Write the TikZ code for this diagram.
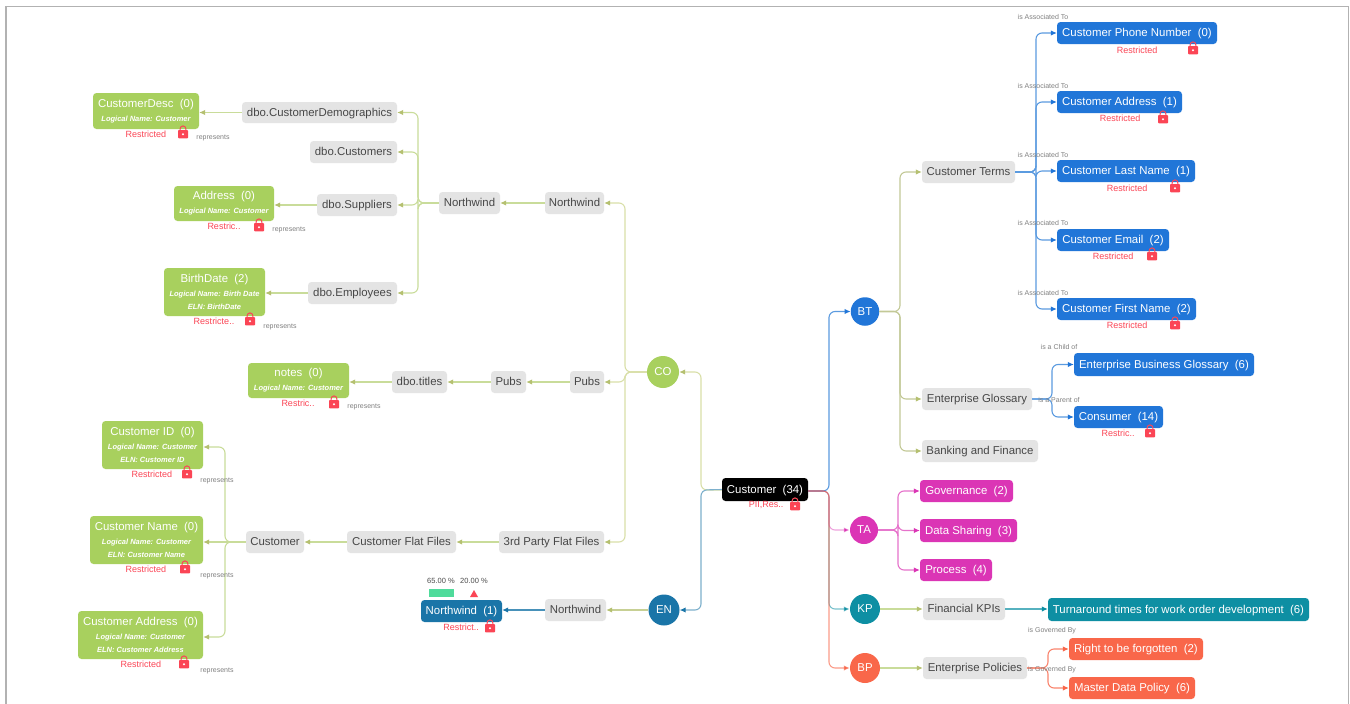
\documentclass[tikz,border=0pt]{standalone}
\usepackage{fontspec}
\setmainfont{Liberation Sans}
\usetikzlibrary{arrows.meta}
\definecolor{cgreen}{HTML}{A8D05E}
\definecolor{cgray}{HTML}{E4E4E4}
\definecolor{cblue}{HTML}{2176D8}
\definecolor{cpink}{HTML}{DB35B5}
\definecolor{cteal}{HTML}{0E8FA3}
\definecolor{ccoral}{HTML}{F9674A}
\definecolor{cen}{HTML}{1A75A8}
\definecolor{cred}{HTML}{FB4555}
\definecolor{cmint}{HTML}{4FDB9B}
\definecolor{lgreen}{HTML}{C9DC9A}
\definecolor{lyellow}{HTML}{D9DFA8}
\definecolor{ltip}{HTML}{B5C070}
\definecolor{lblue}{HTML}{5B9BE0}
\definecolor{lsteel}{HTML}{7DB0CC}
\tikzset{
  boxbase/.style={rounded corners=3.5pt,inner sep=0pt,font=\fontsize{11.4}{13}\selectfont,align=center},
  oneline/.style={text height=8.4pt,text depth=1.4pt},
  gbox/.style={boxbase,oneline,fill=cgray,text=black!72},
  vbox/.style={boxbase,fill=cgreen,text=white},
  bbox/.style={boxbase,oneline,fill=cblue,text=white},
  pbox/.style={boxbase,oneline,fill=cpink,text=white},
  tbox/.style={boxbase,oneline,fill=cteal,text=white},
  obox/.style={boxbase,oneline,fill=ccoral,text=white},
  ebox/.style={boxbase,oneline,fill=cen,text=white},
  rbox/.style={boxbase,oneline,fill=black,text=white},
  hub/.style={circle,inner sep=0pt,text=white,font=\fontsize{11.4}{13}\selectfont},
  lk/.style n args={2}{line width=1.1pt,rounded corners=6pt,draw=#1,-{Latex[length=6pt,width=5.5pt,color=#2]}},
  tiny/.style={inner sep=0pt,text=black!50,font=\fontsize{7}{8}\selectfont},
  warn/.style={inner sep=0pt,text=cred,font=\fontsize{9}{11}\selectfont},
  pct/.style={inner sep=0pt,text=black!70,font=\fontsize{7.5}{9}\selectfont},
}
\newcommand{\bx}[7][]{\node[#2,#1,minimum width={(#5-#3)*1pt},minimum height={(#6-#4)*1pt}] (#7) at ({(#3+#5)/2},{(#4+#6)/2})}
\newcommand{\lockat}[2]{%
  \draw[cred,line width=1pt] (#1-2.9,#2) -- (#1-2.9,#2-3.2) arc[start angle=180,end angle=0,x radius=2.9,y radius=-2.9] -- (#1+2.9,#2);
  \fill[cred,rounded corners=0.8pt] (#1-5,#2-2) rectangle (#1+5,#2+6.3);
  \fill[white] (#1,#2+2.2) circle[radius=1.1];}
\newcommand{\vt}[1]{{\fontsize{7.5}{9.5}\selectfont\bfseries\itshape #1}}
\begin{document}
\begin{tikzpicture}[x=1pt,y=-1pt]
\useasboundingbox (0,0) rectangle (1350,704);
\fill[white] (0,0) rectangle (1350,704);
\draw[black!30,line width=1.4pt] (5.8,704) -- (5.8,6.3) -- (1348.5,6.3) -- (1348.5,704);
% hubs
\node[hub,fill=cgreen,minimum size=32pt] (co) at (663,372) {CO};
\node[hub,fill=cen,minimum size=31pt] (en) at (664,610) {EN};
\node[hub,fill=cblue,minimum size=28.5pt] (bt) at (865,311.5) {BT};
\node[hub,fill=cpink,minimum size=28pt] (ta) at (864,530) {TA};
\node[hub,fill=cteal,minimum size=30pt] (kp) at (865,609) {KP};
\node[hub,fill=ccoral,minimum size=30pt] (bp) at (865,668) {BP};
% root
\bx{rbox}{722}{478}{808}{501}{root} {Customer\ \ (34)};
% grey boxes
\bx{gbox}{242}{102}{397}{123}{cdemo} {dbo.CustomerDemographics};
\bx{gbox}{310}{141}{397}{163}{ccust} {dbo.Customers};
\bx{gbox}{317}{194}{397}{216}{csupp} {dbo.Suppliers};
\bx{gbox}{308}{282}{397}{304}{cempl} {dbo.Employees};
\bx{gbox}{439}{192}{500}{214}{nwa} {Northwind};
\bx{gbox}{545}{192}{604}{214}{nwb} {Northwind};
\bx{gbox}{392}{371}{447}{393}{titles} {dbo.titles};
\bx{gbox}{491}{371}{526}{393}{pubsa} {Pubs};
\bx{gbox}{570}{371}{604}{393}{pubsb} {Pubs};
\bx{gbox}{246}{531}{304}{553}{custg} {Customer};
\bx{gbox}{347}{531}{456}{553}{cff} {Customer Flat Files};
\bx{gbox}{499}{531}{604}{553}{tpf} {3rd Party Flat Files};
\bx{gbox}{545}{599}{606}{621}{nwc} {Northwind};
\bx{gbox}{922}{161}{1015}{183}{terms} {Customer Terms};
\bx{gbox}{922}{388}{1032}{410}{gloss} {Enterprise Glossary};
\bx{gbox}{922}{440}{1038}{462}{bank} {Banking and Finance};
\bx{gbox}{923}{598}{1005}{620}{fkpi} {Financial KPIs};
\bx{gbox}{923}{657}{1027}{679}{epol} {Enterprise Policies};
% green boxes
\bx{vbox}{93}{93}{199}{129}{vdesc} {CustomerDesc\ \ (0)\\[1pt]\vt{Logical Name: Customer}};
\bx{vbox}{174}{186}{274}{221}{vaddr} {Address\ \ (0)\\[1pt]\vt{Logical Name: Customer}};
\bx{vbox}{164}{268}{265}{316}{vbirth} {BirthDate\ \ (2)\\[1pt]\vt{Logical Name: Birth Date}\\\vt{ELN: BirthDate}};
\bx{vbox}{248}{363}{349}{398}{vnotes} {notes\ \ (0)\\[1pt]\vt{Logical Name: Customer}};
\bx{vbox}{102}{421}{203}{469}{vid} {Customer ID\ \ (0)\\[1pt]\vt{Logical Name: Customer}\\\vt{ELN: Customer ID}};
\bx{vbox}{90}{516}{203}{564}{vname} {Customer Name\ \ (0)\\[1pt]\vt{Logical Name: Customer}\\\vt{ELN: Customer Name}};
\bx{vbox}{78}{611}{203}{659}{vcaddr} {Customer Address\ \ (0)\\[1pt]\vt{Logical Name: Customer}\\\vt{ELN: Customer Address}};
% blue boxes
\bx{bbox}{1057}{22}{1217}{44}{bphone} {Customer Phone Number\ \ (0)};
\bx{bbox}{1057}{91}{1182}{113}{baddr} {Customer Address\ \ (1)};
\bx{bbox}{1057}{160}{1195}{182}{blast} {Customer Last Name\ \ (1)};
\bx{bbox}{1057}{229}{1169}{251}{bmail} {Customer Email\ \ (2)};
\bx{bbox}{1057}{298}{1196}{320}{bfirst} {Customer First Name\ \ (2)};
\bx{bbox}{1074}{353}{1254}{376}{bebg} {Enterprise Business Glossary\ \ (6)};
\bx{bbox}{1074}{406}{1163}{428}{bcons} {Consumer\ \ (14)};
% pink, teal, coral, steel
\bx{pbox}{920}{480}{1013}{502}{pgov} {Governance\ \ (2)};
\bx{pbox}{920}{519}{1017}{542}{pdata} {Data Sharing\ \ (3)};
\bx{pbox}{920}{559}{992}{581}{pproc} {Process\ \ (4)};
\bx{tbox}{1048}{598}{1309}{621}{turn} {Turnaround times for work order development\ \ (6)};
\bx{obox}{1069}{638}{1203}{660}{oright} {Right to be forgotten\ \ (2)};
\bx{obox}{1069}{677}{1195}{699}{omaster} {Master Data Policy\ \ (6)};
\bx{ebox}{421}{600}{502}{622}{enw} {Northwind\ \ (1)};
% routing points
\coordinate (jco) at (701,490);
\coordinate (jr) at (829,491);
\coordinate (jcoo) at (625,372);
\coordinate (jnw) at (418,203);
\coordinate (jcg) at (225,542);
\coordinate (jbt) at (900,311.5);
\coordinate (jterm) at (1036,172);
\coordinate (jgl) at (1052,399);
\coordinate (jta) at (898,530);
\coordinate (jep) at (1048,668);
\coordinate (pid) at (vid.east|-0,447);
\coordinate (pca) at (vcaddr.east|-0,637);
% connectors
\draw[lk={lyellow}{ltip}] (root.west|-jco) -- (jco) |- (co.east);
\draw[lk={lsteel}{cen}] (root.west) -- (jco) |- (en.east);
\foreach \t in {nwb,pubsb,tpf}
  \draw[lk={lyellow}{ltip}] (co.west) -- (jcoo) |- (\t.east);
\draw[lk={lgreen}{ltip}] (nwb.west) -- (nwa.east);
\foreach \t in {cdemo,ccust,csupp,cempl}
  \draw[lk={lgreen}{ltip}] (nwa.west) -- (jnw) |- (\t.east);
\draw[lk={lgreen}{ltip}] (cdemo.west) -- (vdesc.east|-cdemo);
\draw[lk={lgreen}{ltip}] (csupp.west) -- (vaddr.east|-csupp);
\draw[lk={lgreen}{ltip}] (cempl.west) -- (vbirth.east|-cempl);
\draw[lk={lgreen}{ltip}] (pubsb.west) -- (pubsa.east);
\draw[lk={lgreen}{ltip}] (pubsa.west) -- (titles.east);
\draw[lk={lgreen}{ltip}] (titles.west) -- (vnotes.east|-titles);
\draw[lk={lgreen}{ltip}] (tpf.west) -- (cff.east);
\draw[lk={lgreen}{ltip}] (cff.west) -- (custg.east);
\draw[lk={lgreen}{ltip}] (custg.west) -- (jcg) |- (pid);
\draw[lk={lgreen}{ltip}] (custg.west) -- (vname.east|-custg);
\draw[lk={lgreen}{ltip}] (custg.west) -- (jcg) |- (pca);
\draw[lk={ltip!75!white}{ltip}] (en.west) -- (nwc.east);
\draw[lk={cen!80!white}{cen}] (nwc.west) -- (enw.east|-nwc.west);
% right side
\draw[lk={lblue}{cblue}] (root.east|-jr) -- (jr) |- (bt.west);
\draw[lk={cteal}{cteal},draw opacity=0.55] (root.east|-jr) -- (jr) |- (kp.west);
\draw[lk={cpink}{cpink},draw opacity=0.45] (root.east|-jr) -- (jr) |- (ta.west);
\draw[lk={ccoral}{ccoral},draw opacity=0.65] (root.east|-jr) -- (jr) |- (bp.west);
\foreach \t in {terms,gloss,bank}
  \draw[lk={lyellow!90!black}{ltip}] (bt.east) -- (jbt) |- (\t.west);
\foreach \t in {bphone,baddr,blast,bmail,bfirst}
  \draw[lk={lblue}{cblue}] (terms.east) -- (jterm) |- (\t.west);
\foreach \t in {bebg,bcons}
  \draw[lk={lblue}{cblue}] (gloss.east) -- (jgl) |- (\t.west);
\foreach \t in {pgov,pdata,pproc}
  \draw[lk={cpink!70!white}{cpink}] (ta.east) -- (jta) |- (\t.west);
\draw[lk={lgreen}{ltip}] (kp.east) -- (fkpi.west);
\draw[lk={cteal!70!white}{cteal}] (fkpi.east) -- (turn.west|-fkpi.east);
\draw[lk={lgreen}{ltip}] (bp.east) -- (epol.west);
\foreach \t in {oright,omaster}
  \draw[lk={ccoral!80!white}{ccoral}] (epol.east) -- (jep) |- (\t.west);
% small labels
\node[tiny] (r1) at (213,138) {represents};
\node[tiny] (r2) at (289,230) {represents};
\node[tiny] (r3) at (280,327) {represents};
\node[tiny] (r4) at (364,407) {represents};
\node[tiny] (r5) at (217,481) {represents};
\node[tiny] (r6) at (217,576) {represents};
\node[tiny] (r7) at (217,671) {represents};
\node[tiny] (a1) at (1043,17) {is Associated To};
\node[tiny] (a2) at (1043,86) {is Associated To};
\node[tiny] (a3) at (1043,155) {is Associated To};
\node[tiny] (a4) at (1043,223) {is Associated To};
\node[tiny] (a5) at (1043,293) {is Associated To};
\node[tiny] (ch) at (1059,347) {is a Child of};
\node[tiny] (pa) at (1059,400) {is a Parent of};
\node[tiny] (g1) at (1052,631) {is Governed By};
\node[tiny] (g2) at (1052,670) {is Governed By};
% restrictions
\node[warn] (w1) at (146,134) {Restricted}; \lockat{183}{132}
\node[warn] (w2) at (224,226) {Restric..}; \lockat{259}{225}
\node[warn] (w3) at (214,321) {Restricte..}; \lockat{250}{319}
\node[warn] (w4) at (298,403) {Restric..}; \lockat{334}{402}
\node[warn] (w5) at (152,474) {Restricted}; \lockat{187}{472}
\node[warn] (w6) at (146,569) {Restricted}; \lockat{185}{567}
\node[warn] (w7) at (141,664) {Restricted}; \lockat{184}{662}
\node[warn] (w8) at (1137,50) {Restricted}; \lockat{1193}{48}
\node[warn] (w9) at (1120,118.5) {Restricted}; \lockat{1163}{117}
\node[warn] (w10) at (1127,188) {Restricted}; \lockat{1175}{186}
\node[warn] (w11) at (1113,256) {Restricted}; \lockat{1152}{254}
\node[warn] (w12) at (1127,325) {Restricted}; \lockat{1175}{323}
\node[warn] (w13) at (1118,433) {Restric..}; \lockat{1150}{431}
\node[warn] (w14) at (766,505) {PII,Res..}; \lockat{795}{504}
\node[warn] (w15) at (461,627.5) {Restrict..}; \lockat{490}{626}
% score
\node[pct] (s1) at (441,581) {65.00 \%};
\node[pct] (s2) at (474,581) {20.00 \%};
\fill[cmint] (429,589) rectangle (454,597);
\fill[cred] (470,597) -- (474,590) -- (478,597) -- cycle;
\end{tikzpicture}
\end{document}
